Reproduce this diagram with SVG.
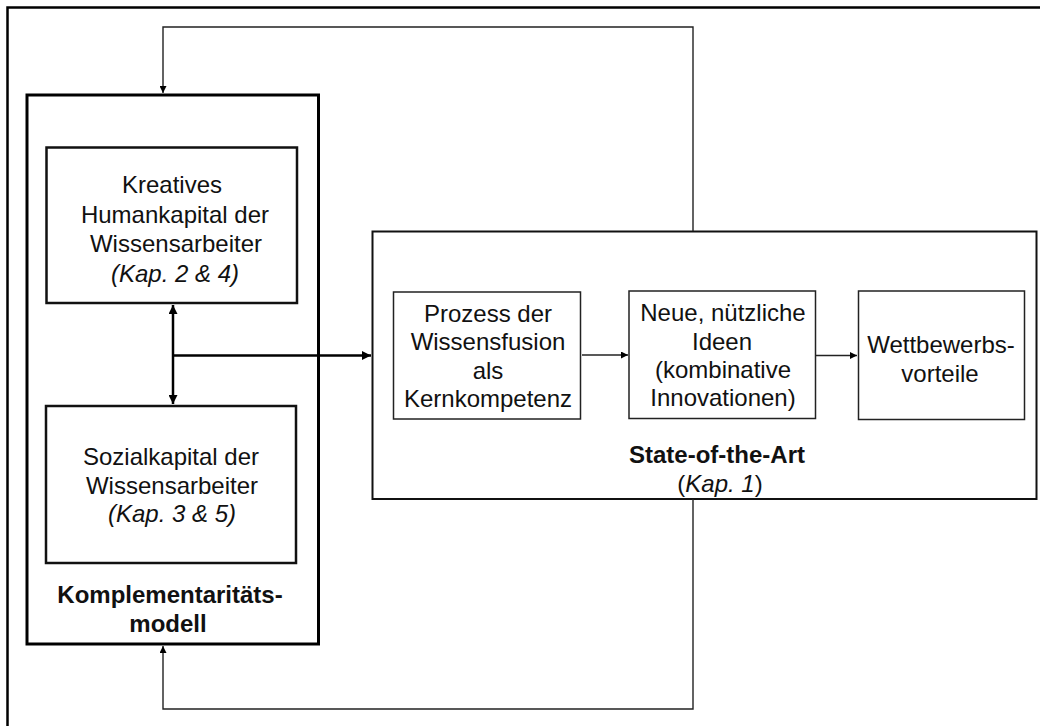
<svg xmlns="http://www.w3.org/2000/svg" width="1040" height="726" viewBox="0 0 1040 726">
  <style>
    text { font-family: "Liberation Sans", Arial, sans-serif; font-size: 24px; fill: #111; text-anchor: middle; }
    .b { font-weight: bold; }
    .i { font-style: italic; }
    .heavy { fill: #fff; stroke: #000; stroke-width: 3; }
    .mid { fill: #fff; stroke: #111; stroke-width: 2.5; }
    .thin { fill: #fff; stroke: #222; stroke-width: 1.5; }
    .link { fill: none; stroke: #222; stroke-width: 1.4; }
    .link2 { fill: none; stroke: #000; stroke-width: 2.5; }
  </style>
  <defs>
    <marker id="ah" viewBox="0 0 10 10" refX="10" refY="5" markerWidth="7" markerHeight="7" markerUnits="userSpaceOnUse" orient="auto">
      <path d="M0,0 L10,5 L0,10 z" fill="#000"/>
    </marker>
    <marker id="ahb" viewBox="0 0 10 10" refX="10" refY="5" markerWidth="9" markerHeight="9" markerUnits="userSpaceOnUse" orient="auto-start-reverse">
      <path d="M0,0 L10,5 L0,10 z" fill="#000"/>
    </marker>
  </defs>

  <rect width="1040" height="726" fill="#fff"/>

  <!-- page frame, open on the right and bottom -->
  <path d="M1040,7.5 H7.5 V726" fill="none" stroke="#000" stroke-width="2.5"/>

  <g id="komplementaritaetsmodell">
    <rect class="heavy" x="27" y="95" width="291.5" height="549"/>
    <text class="b" x="170" y="603">Komplementaritäts-</text>
    <text class="b" x="168" y="632">modell</text>
  </g>

  <g id="humankapital">
    <rect class="mid" x="46.5" y="147.5" width="250.5" height="155.5"/>
    <text x="172" y="192.5">Kreatives</text>
    <text x="175" y="222.5">Humankapital der</text>
    <text x="176" y="252">Wissensarbeiter</text>
    <text class="i" x="175" y="281.5">(Kap. 2 &amp; 4)</text>
  </g>

  <g id="sozialkapital">
    <rect class="mid" x="46" y="406" width="250" height="157"/>
    <text x="171" y="465">Sozialkapital der</text>
    <text x="172" y="493.5">Wissensarbeiter</text>
    <text class="i" x="172" y="522">(Kap. 3 &amp; 5)</text>
  </g>

  <g id="state-of-the-art">
    <rect x="372.5" y="231.5" width="664" height="267.5" fill="#fff" stroke="#111" stroke-width="2"/>
    <text class="b" x="717" y="463">State-of-the-Art</text>
    <text x="720" y="491.5">(<tspan class="i">Kap. 1</tspan>)</text>
  </g>

  <g id="wissensfusion">
    <rect class="thin" x="393.5" y="292" width="187" height="127"/>
    <text x="488" y="321.5">Prozess der</text>
    <text x="488" y="350">Wissensfusion</text>
    <text x="488" y="378.5">als</text>
    <text x="488" y="406.5">Kernkompetenz</text>
  </g>

  <g id="ideen">
    <rect class="thin" x="629" y="291" width="186.5" height="127.5"/>
    <text x="723" y="321">Neue, nützliche</text>
    <text x="722" y="349.5">Ideen</text>
    <text x="723" y="378">(kombinative</text>
    <text x="723" y="406">Innovationen)</text>
  </g>

  <g id="wettbewerbsvorteile">
    <rect class="thin" x="858.5" y="291" width="166" height="128.5"/>
    <text x="941" y="353">Wettbewerbs-</text>
    <text x="940" y="381.5">vorteile</text>
  </g>

  <g id="connectors">
    <!-- feedback loop from the top -->
    <path class="link" d="M693,231 V27 H163 V93" marker-end="url(#ah)"/>
    <!-- feedback loop from the bottom -->
    <path class="link" d="M693,499 V709 H163 V646" marker-end="url(#ah)"/>
    <!-- complementarity between the two capitals -->
    <path class="link2" d="M173,305 V404" marker-start="url(#ahb)" marker-end="url(#ahb)"/>
    <!-- into the state-of-the-art process -->
    <path class="link2" d="M173,355.5 H371" marker-end="url(#ahb)"/>
    <!-- process chain -->
    <path class="link" d="M582,355 H628" marker-end="url(#ah)"/>
    <path class="link" d="M816,355.5 H857" marker-end="url(#ah)"/>
  </g>
</svg>
